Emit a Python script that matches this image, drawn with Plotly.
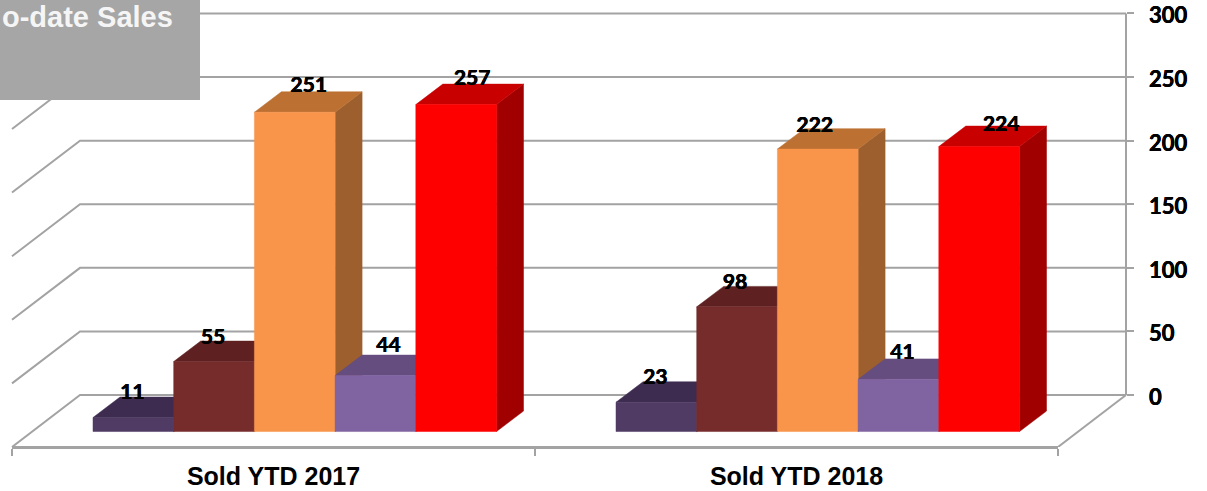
import plotly.graph_objects as go

# ---- data ----
categories = ["Sold YTD 2017", "Sold YTD 2018"]
series_a = [11, 23]
series_b = [55, 98]
series_c = [251, 222]
series_d = [44, 41]
series_e = [257, 224]
tick_values = [0, 50, 100, 150, 200, 250, 300]
title_text = "o-date Sales"

# ---- styles ----
FRONT = ["#4f3b63", "#772c2c", "#f9954a", "#8064a2", "#ff0000"]
TOP = ["#3e2c50", "#5e2020", "#bc7133", "#654d7f", "#c80000"]
SIDE = ["#33243f", "#4e1a1a", "#9c5f2d", "#544068", "#a00000"]
GRID = "#a3a3a3"
W, H = 1207, 491
PLOT_BOTTOM = 447.5
ZERO_PX = 395.5
PX_PER_VALUE = 1.2735
PX_PER_CAT = 523.0
LEFT_PX = 12.0
BACK_DX = 68.0 / PX_PER_CAT
BACK_DY = 52.0 / PX_PER_VALUE
BAR_PAD = 81.0 / PX_PER_CAT
BAR_W = 80.7 / PX_PER_CAT
BAR_BASE = -36.5 / PX_PER_VALUE
DEPTH_X = 27.0 / PX_PER_CAT
DEPTH_Y = 20.5 / PX_PER_VALUE
# label shift from bar-top centre in pixels (dx, up)
LABEL_SHIFT = [[(-1, 23.5), (-1, 22.5), (14, 25.5), (13, 28.5), (16, 25)],
               [(-1, 23.5), (-2, 23), (-3, 22.5), (4, 25.5), (22, 20.5)]]
TICK_LABEL_GAP = 23.0 / PX_PER_CAT
TICK_LABEL_DROP = 4.5 / PX_PER_VALUE
THICK = "0.35px 0 0 #000, -0.35px 0 0 #000"
VALUE_FONT = dict(family="Lato", size=21, color="#000000", weight=700, shadow=THICK)

series = [series_a, series_b, series_c, series_d, series_e]
fig = go.Figure()

def poly(xs, ys, color, name):
    fig.add_trace(go.Scatter(x=xs, y=ys, mode="lines", fill="toself", fillcolor=color,
                             line=dict(color=color, width=0.5), name=name,
                             hoverinfo="skip", showlegend=False, xaxis="x", yaxis="y"))

# wall and floor grid
gx, gy = [], []
for v in tick_values:
    gx += [0, BACK_DX, 2 + BACK_DX, None]
    gy += [v - BACK_DY, v, v, None]
fig.add_trace(go.Scatter(x=gx, y=gy, mode="lines", line=dict(color=GRID, width=2),
                         hoverinfo="skip", showlegend=False, xaxis="x", yaxis="y"))
# back-right vertical and floor right edge
fig.add_trace(go.Scatter(x=[2 + BACK_DX, 2 + BACK_DX, None, 2, 2 + BACK_DX],
                         y=[tick_values[0], tick_values[-1], None, -BACK_DY, tick_values[0]],
                         mode="lines", line=dict(color=GRID, width=2),
                         hoverinfo="skip", showlegend=False, xaxis="x", yaxis="y"))

# bars, painted left to right
lx, ly, lt = [], [], []
for c, cat in enumerate(categories):
    for s, vals in enumerate(series):
        v = vals[c]
        x0 = c + BAR_PAD + s * BAR_W
        x1 = x0 + BAR_W
        y0 = BAR_BASE
        y1 = BAR_BASE + v
        poly([x1, x1 + DEPTH_X, x1 + DEPTH_X, x1, x1],
             [y0, y0 + DEPTH_Y, y1 + DEPTH_Y, y1, y0], SIDE[s], "side")
        poly([x0, x0 + DEPTH_X, x1 + DEPTH_X, x1, x0],
             [y1, y1 + DEPTH_Y, y1 + DEPTH_Y, y1, y1], TOP[s], "top")
        poly([x0, x1, x1, x0, x0], [y0, y0, y1, y1, y0], FRONT[s], f"{cat}")
        dx, up = LABEL_SHIFT[c][s]
        lx.append((x0 + x1) / 2 + dx / PX_PER_CAT)
        ly.append(y1 + up / PX_PER_VALUE)
        lt.append(str(v))
fig.add_trace(go.Scatter(x=lx, y=ly, text=lt, mode="text", textposition="middle center",
                         textfont=VALUE_FONT, hoverinfo="skip", showlegend=False,
                         xaxis="x", yaxis="y", cliponaxis=False))
# value-axis labels, right of the back wall
fig.add_trace(go.Scatter(x=[2 + BACK_DX + TICK_LABEL_GAP] * len(tick_values),
                         y=[v - TICK_LABEL_DROP for v in tick_values],
                         text=[str(v) for v in tick_values], mode="text",
                         textposition="middle right", textfont=VALUE_FONT | dict(size=22),
                         hoverinfo="skip", showlegend=False, xaxis="x", yaxis="y",
                         cliponaxis=False))

# front floor edge carries the category axis
fig.add_trace(go.Scatter(x=[0, 2], y=[-BACK_DY, -BACK_DY], mode="lines",
                         line=dict(color=GRID, width=2), hoverinfo="skip",
                         showlegend=False, xaxis="x2", yaxis="y"))

plot_h = PLOT_BOTTOM
fig.update_layout(
    width=W, height=H, autosize=False,
    margin=dict(l=0, r=0, t=0, b=H - PLOT_BOTTOM, pad=0, autoexpand=False),
    paper_bgcolor="#ffffff", plot_bgcolor="rgba(0,0,0,0)", showlegend=False,
    xaxis=dict(domain=[0, 1], range=[-LEFT_PX / PX_PER_CAT, (W - LEFT_PX) / PX_PER_CAT],
               visible=False, fixedrange=True, automargin=False),
    xaxis2=dict(domain=[LEFT_PX / W, (LEFT_PX + 2 * PX_PER_CAT) / W], range=[0, 2],
                anchor="y", side="bottom", showgrid=False, zeroline=False,
                showline=True, linecolor=GRID, linewidth=2, automargin=False,
                tickmode="array", tickvals=[0.5, 1.5], ticktext=categories,
                ticks="", ticklabelstandoff=6,
                tickfont=dict(family="Liberation Sans", size=25, color="#000000", weight=700),
                minor=dict(tickmode="array", tickvals=[0, 1, 2], ticks="outside", ticklen=7,
                           tickwidth=2, tickcolor=GRID, showgrid=False),
                fixedrange=True),
    yaxis=dict(range=[(ZERO_PX - PLOT_BOTTOM) / PX_PER_VALUE, ZERO_PX / PX_PER_VALUE],
               domain=[0, 1], anchor="free", position=(LEFT_PX + 2 * PX_PER_CAT + 68) / W,
               side="right", showgrid=False, zeroline=False, showline=False, automargin=False,
               tickmode="array", tickvals=tick_values, ticks="outside", ticklen=7,
               tickwidth=2, tickcolor=GRID, showticklabels=False, fixedrange=True),
    shapes=[dict(type="rect", xref="paper", yref="paper", layer="above",
                 x0=0, x1=200 / W, y0=1 - 100 / plot_h, y1=1,
                 fillcolor="#a6a6a6", line=dict(width=0))],
    annotations=[dict(text=title_text, xref="paper", yref="paper", x=175 / W, y=1 - 17 / plot_h,
                      xanchor="right", yanchor="middle", showarrow=False, align="right",
                      font=dict(family="Liberation Sans", size=29, color="#f5f5f5", weight=700))],
)

fig.write_html("out.html", config={"displayModeBar": False},
               post_script="document.body.style.margin='0';document.body.style.overflow='hidden';")
